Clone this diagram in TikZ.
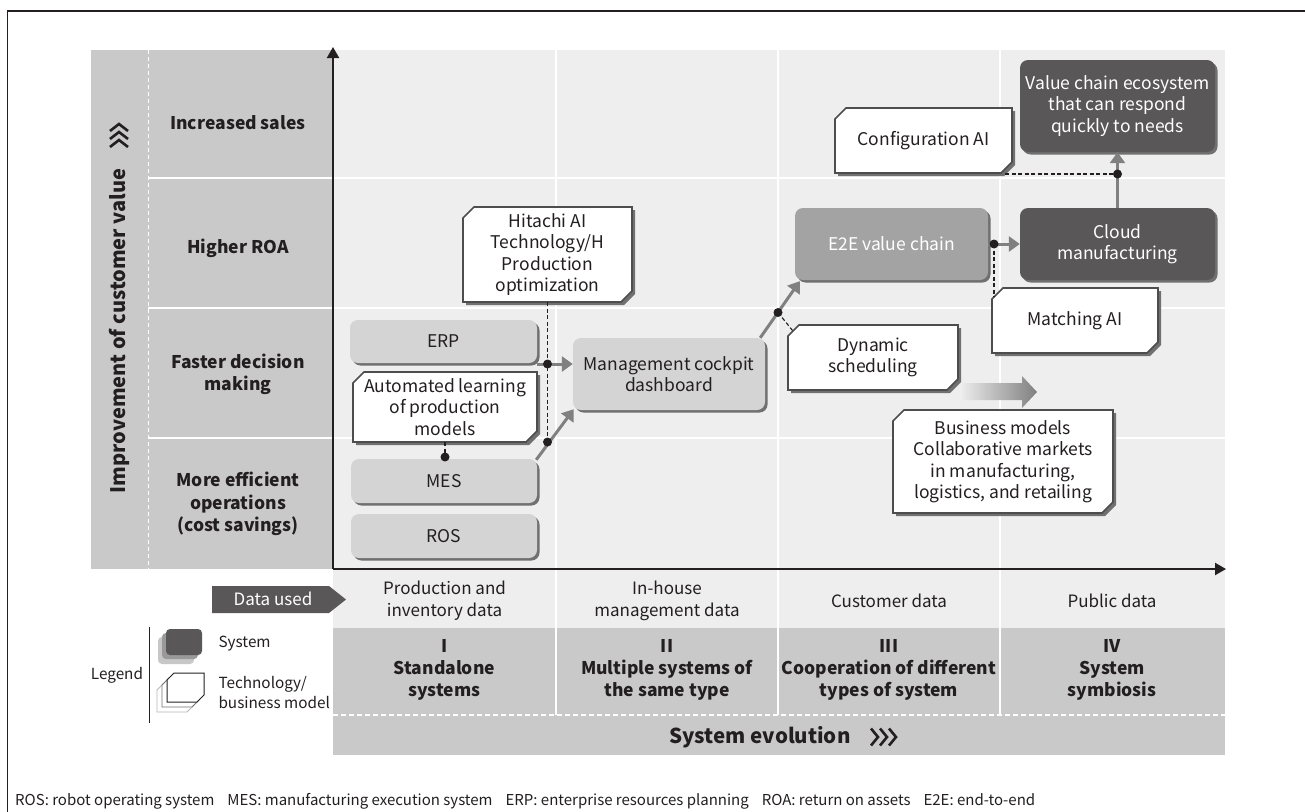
\documentclass[tikz,border=0pt]{standalone}
\usepackage{fontspec}
\setmainfont{Noto Sans CJK JP}
\usetikzlibrary{arrows.meta,shadows,calc}
\definecolor{ink}{HTML}{231F20}
\definecolor{band}{HTML}{C9C9CA}
\definecolor{plot}{HTML}{EEEEEE}
\definecolor{syslight}{HTML}{D4D4D4}
\definecolor{sysmid}{HTML}{A3A3A3}
\definecolor{sysdark}{HTML}{595757}
\definecolor{shad}{HTML}{707070}
\definecolor{arr}{HTML}{808080}
\definecolor{tborder}{HTML}{4D4D4D}
\tikzset{
  txt/.style={font=\fontsize{17.5}{21.5}\selectfont, text=ink, align=center},
  sysbox/.style={txt, rounded corners=8pt, inner sep=0pt,
    drop shadow={shadow xshift=2.5pt, shadow yshift=-2.5pt, fill=shad, opacity=1}},
  garrow/.style={draw=arr, line width=3pt, -{Triangle[length=11pt,width=15pt]}},
  dashc/.style={draw=ink, line width=1.1pt, dash pattern=on 4pt off 2.5pt},
  jdot/.style={circle, fill=ink, inner sep=0pt, minimum size=9pt},
  rowlab/.style={font=\bfseries\fontsize{17.5}{22.5}\selectfont, text=ink, align=center},
  datalab/.style={font=\fontsize{17}{22}\selectfont, text=ink, align=center},
  stagelab/.style={font=\bfseries\fontsize{17.5}{22}\selectfont, text=ink, align=center},
  chevline/.style={draw=ink, line width=2.6pt},
  legtxt/.style={font=\fontsize{15.3}{20}\selectfont, text=ink},
}
\newcommand\techbox[6]{%
  \fill[shad] ({#2-#4/2+3},{#3-#5/2+3+11}) -- ({#2-#4/2+3+11},{#3-#5/2+3}) -- ({#2+#4/2+3},{#3-#5/2+3})
     -- ({#2+#4/2+3},{#3+#5/2+3-11}) -- ({#2+#4/2+3-11},{#3+#5/2+3}) -- ({#2-#4/2+3},{#3+#5/2+3}) -- cycle;
  \draw[tborder, line width=1.6pt, fill=white] ({#2-#4/2},{#3-#5/2+11}) -- ({#2-#4/2+11},{#3-#5/2}) -- ({#2+#4/2},{#3-#5/2})
     -- ({#2+#4/2},{#3+#5/2-11}) -- ({#2+#4/2-11},{#3+#5/2}) -- ({#2-#4/2},{#3+#5/2}) -- cycle;
  \node[txt, minimum width=#4pt, minimum height=#5pt, inner sep=0pt] (#1) at (#2,#3) {#6};
}
\newcommand\legchamf[5]{% x0 y0 x1 y1 style
  \draw[#5] (#1,#2+7) -- (#1+7,#2) -- (#3,#2) -- (#3,#4-7) -- (#3-7,#4) -- (#1,#4) -- cycle;
}
\begin{document}
\begin{tikzpicture}[x=1pt,y=-1pt]
\useasboundingbox (0,0) rectangle (1305,811);
\fill[white] (0,0) rectangle (1305,811);
% frame
\draw[ink, line width=1.4pt] (7.5,812) -- (7.5,11) -- (1306,11);
% backgrounds
\fill[band] (91,50) rectangle (333,569);
\fill[plot] (333,50) rectangle (1225,628);
\fill[band] (333,628) rectangle (1225,755);
% grid
\draw[white, line width=1pt, dash pattern=on 4pt off 3pt] (148,50) -- (148,569);
\foreach \y in {178,308,438} \draw[white, line width=2.5pt] (148,\y) -- (1225,\y);
\foreach \x in {556,778,1000} \draw[white, line width=2.5pt] (\x,50) -- (\x,715);
\draw[white, line width=1.2pt, dash pattern=on 5pt off 3pt] (333,715) -- (1225,715);
% axes
\coordinate (org) at (333,569);
\coordinate (ytop) at (333,47);
\coordinate (xend) at (1226,569);
\draw[ink, line width=2.2pt, -{Triangle[length=11pt,width=12pt]}] (org) -- (ytop);
\draw[ink, line width=2.2pt, -{Triangle[length=11pt,width=12pt]}] (org) -- (xend);

% y axis label
\node[font=\bfseries\fontsize{20}{24}\selectfont, text=ink, rotate=90] (yl) at (119,331) {Improvement of customer value};
\foreach \yy in {124,132,140} \draw[chevline] (110,\yy+7) -- (119,\yy) -- (128,\yy+7);

% row labels
\node[rowlab] (r1) at (238,123) {Increased sales};
\node[rowlab] (r2) at (238,248) {Higher ROA};
\node[rowlab] (r3) at (238,374.5) {Faster decision\\making};
\node[rowlab] (r4) at (238,504) {More efficient\\operations\\(cost savings)};

% system boxes
\node[sysbox, fill=syslight, minimum width=187pt, minimum height=43pt] (erp) at (443.5,341.5) {ERP};
\node[sysbox, fill=syslight, minimum width=186pt, minimum height=44pt] (mes) at (444,481) {MES};
\node[sysbox, fill=syslight, minimum width=186pt, minimum height=44pt] (ros) at (444,536) {ROS};
\node[sysbox, fill=syslight, minimum width=192pt, minimum height=72pt] (cockpit) at (669,374) {Management cockpit\\dashboard};
\node[sysbox, fill=sysmid, text=white, minimum width=193pt, minimum height=72pt] (e2e) at (891.5,244) {E2E value chain};
\node[sysbox, fill=sysdark, text=white, minimum width=195pt, minimum height=72pt] (cloud) at (1117.5,244) {Cloud\\manufacturing};
\node[sysbox, fill=sysdark, text=white, minimum width=195pt, minimum height=92pt] (eco) at (1117.5,106) {Value chain ecosystem\\that can respond\\quickly to needs};

% technology boxes
\techbox{hitachi}{547.5}{254.5}{169}{95}{Hitachi AI\\Technology/H\\Production\\optimization}
\techbox{autol}{445}{407}{184}{70}{Automated learning\\of production\\models}
\techbox{config}{923.5}{140.5}{177}{65}{Configuration AI}
\techbox{dyn}{873}{357.5}{170}{65}{Dynamic\\scheduling}
\techbox{match}{1075}{320.5}{166}{65}{Matching AI}
\techbox{biz}{1003}{461.5}{220}{103}{Business models\\Collaborative markets\\in manufacturing,\\logistics, and retailing}

% gradient arrow
\shade[left color=black!8, right color=black!50] (962,383) -- (1022,383) -- (1022,376) -- (1037,392) -- (1022,408) -- (1022,400) -- (962,400) -- cycle;

% junctions
\coordinate (j1) at (547.5,364);
\coordinate (j2) at (547.5,442);
\coordinate (j0) at (445,457);
\coordinate (j3) at (778,312.5);
\coordinate (j4) at (994,244);
\coordinate (j5) at (1117.5,174);
\coordinate (dync) at (792.5,330.5);
\coordinate (matc) at (994,297);
\coordinate (confc) at (1005,174);

% connectors
\draw[garrow] (erp.south east |- j1) -- (cockpit.west |- j1);
\draw[garrow] ([xshift=-1pt,yshift=-1pt]mes.north east) -- ([xshift=1pt,yshift=1pt]cockpit.south west);
\draw[garrow] ([xshift=-5pt]cockpit.north east) -- ([xshift=5pt,yshift=-1pt]e2e.south west);
\draw[garrow] (e2e.east) -- (cloud.west);
\draw[garrow] (cloud.north) -- (eco.south);

\draw[dashc] (hitachi.south) -- (j2);
\draw[dashc] (autol.south) -- (j0);
\draw[dashc] (j3) -- (dync);
\draw[dashc] (j4) -- (matc);
\draw[dashc] (confc) -- (j5);

\foreach \j in {j0,j1,j2,j3,j4,j5} \node[jdot] at (\j) {};

% data row
\fill[sysdark] (212,586) -- (329,586) -- (346,599.5) -- (329,613) -- (212,613) -- cycle;
\node[font=\fontsize{17}{20}\selectfont, text=white] (dataused) at (273,599) {Data used};
\node[datalab] (d1) at (444.5,601) {Production and\\inventory data};
\node[datalab] (d2) at (667,601) {In-house\\management data};
\node[datalab] (d3) at (889,601) {Customer data};
\node[datalab] (d4) at (1112,601) {Public data};

% stages
\node[stagelab] (s1) at (444.5,670) {I\\Standalone\\systems};
\node[stagelab] (s2) at (667,670) {II\\Multiple systems of\\the same type};
\node[stagelab] (s3) at (889,670) {III\\Cooperation of different\\types of system};
\node[stagelab] (s4) at (1112,670) {IV\\System\\symbiosis};
\node[font=\bfseries\fontsize{20.5}{24}\selectfont, text=ink] (evo) at (760,737) {System evolution};
\foreach \xx in {871,880,889} \draw[chevline] (\xx,728.5) -- (\xx+7,737) -- (\xx,745.5);

% legend
\node[legtxt] (leg) at (117,675) {Legend};
\draw[ink, line width=1pt] (149,627) -- (149,723);
\fill[black!22, rounded corners=4pt] (158,637) rectangle (194,664);
\fill[black!40, rounded corners=4pt] (162,633) rectangle (198,659);
\fill[sysdark, rounded corners=4pt] (166,629) rectangle (202,655);
\node[legtxt, anchor=west] (legsys) at (215,644) {System};
\legchamf{157}{683}{194}{712}{black!28, line width=0.8pt, fill=white}
\legchamf{162}{678}{199}{707}{black!55, line width=0.8pt, fill=white}
\legchamf{167}{673}{204}{702}{ink, line width=1pt, fill=white}
\node[legtxt, anchor=west, align=left] (legtech) at (215,692) {Technology/\\business model};

% footnote
\node[font=\fontsize{15}{18}\selectfont, text=ink, anchor=west, inner sep=0pt] (foot) at (15,801) {ROS: robot operating system\hspace{13pt}MES: manufacturing execution system\hspace{13pt}ERP: enterprise resources planning\hspace{13pt}ROA: return on assets\hspace{13pt}E2E: end-to-end};
\end{tikzpicture}
\end{document}
